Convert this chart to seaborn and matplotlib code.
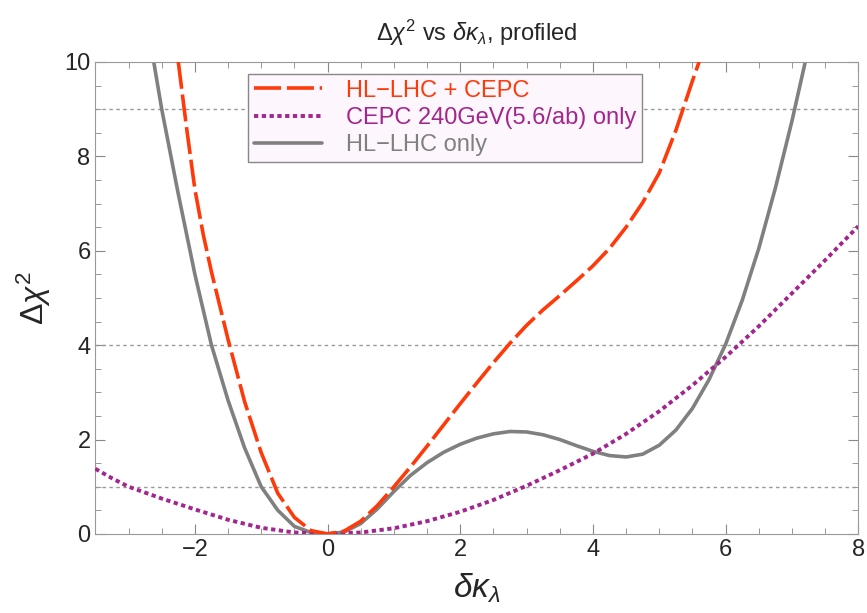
import numpy as np
import pandas as pd
import matplotlib
matplotlib.use("Agg")
import matplotlib.pyplot as plt
import seaborn as sns
from matplotlib.ticker import MultipleLocator

# -------------------------------
# Datos
# -------------------------------
x_comb = [-2.25, -2.125, -2.0, -1.875, -1.75, -1.5, -1.25, -1.0, -0.75, -0.5, -0.25, 0.0,
          0.25, 0.5, 0.75, 1.0, 1.25, 1.5, 1.75, 2.0, 2.25, 2.5, 2.75, 3.0,
          3.25, 3.5, 3.75, 4.0, 4.25, 4.5, 4.75, 5.0, 5.25, 5.5, 5.6]
y_comb = [10.0, 8.6, 7.3, 6.35, 5.55, 4.12, 2.8, 1.72, 0.86, 0.35, 0.07, 0.0,
          0.06, 0.27, 0.6, 1.0, 1.42, 1.86, 2.31, 2.76, 3.2, 3.63, 4.04, 4.42,
          4.75, 5.05, 5.36, 5.68, 6.05, 6.5, 7.02, 7.65, 8.55, 9.6, 10.0]

x_cepc = [-3.5, -3.25, -3.0, -2.5, -2.0, -1.5, -1.0, -0.5, 0.0, 0.5, 1.0, 1.5,
          2.0, 2.5, 3.0, 3.5, 4.0, 4.5, 5.0, 5.5, 6.0, 6.5, 7.0, 7.5, 8.0]
y_cepc = [1.38, 1.18, 1.0, 0.75, 0.52, 0.3, 0.13, 0.03, 0.0, 0.03, 0.12, 0.27,
          0.47, 0.72, 1.02, 1.35, 1.7, 2.12, 2.6, 3.15, 3.75, 4.4, 5.1, 5.8, 6.52]

x_hl = [-2.62, -2.5, -2.25, -2.0, -1.75, -1.5, -1.25, -1.0, -0.75, -0.5, -0.25, 0.0,
        0.25, 0.5, 0.75, 1.0, 1.25, 1.5, 1.75, 2.0, 2.25, 2.5, 2.75, 3.0, 3.25,
        3.5, 3.75, 4.0, 4.25, 4.5, 4.75, 5.0, 5.25, 5.5, 5.75, 6.0, 6.25, 6.5,
        6.75, 7.0, 7.2]
y_hl = [10.0, 9.0, 7.2, 5.5, 4.0, 2.83, 1.82, 1.0, 0.5, 0.16, 0.03, 0.0,
        0.04, 0.22, 0.53, 0.9, 1.24, 1.51, 1.73, 1.9, 2.03, 2.12, 2.17, 2.16, 2.1,
        2.0, 1.87, 1.75, 1.66, 1.63, 1.69, 1.88, 2.2, 2.66, 3.27, 4.02, 4.95, 6.05,
        7.33, 8.75, 10.0]

etiquetas = ["HL\u2212LHC + CEPC", "CEPC 240GeV(5.6/ab) only", "HL\u2212LHC only"]
colores = ["#FF3A0A", "#A3268E", "#808080"]
niveles = [1, 4, 9]

# -------------------------------
# Estilo
# -------------------------------
sns.set_style("ticks")
plt.rcParams["font.family"] = ["Liberation Sans", "DejaVu Sans"]
plt.rcParams["mathtext.fontset"] = "custom"
plt.rcParams["mathtext.rm"] = "Liberation Sans"
plt.rcParams["mathtext.it"] = "Liberation Sans:italic"

fig, ax = plt.subplots(figsize=(8.67, 6.13), dpi=100)
fig.subplots_adjust(left=0.11, right=0.99, top=0.899, bottom=0.129)

for n in niveles:
    ax.axhline(n, color="#999999", lw=1.0, ls=(0, (2.5, 2.5)), zorder=1)

df_comb = pd.DataFrame({"x": x_comb, "y": y_comb})
df_cepc = pd.DataFrame({"x": x_cepc, "y": y_cepc})
df_hl = pd.DataFrame({"x": x_hl, "y": y_hl})

sns.lineplot(data=df_comb, x="x", y="y", ax=ax, color=colores[0], lw=2.6,
             label=etiquetas[0], zorder=4, sort=False)
sns.lineplot(data=df_cepc, x="x", y="y", ax=ax, color=colores[1], lw=2.8,
             label=etiquetas[1], zorder=3, sort=False)
sns.lineplot(data=df_hl, x="x", y="y", ax=ax, color=colores[2], lw=2.6,
             label=etiquetas[2], zorder=2, sort=False)

ax.lines[3].set_dashes([7.5, 1.6])
ax.lines[4].set_dashes([1.1, 0.9])

ax.set_xlim(-3.5, 8)
ax.set_ylim(0, 10)
ax.xaxis.set_major_locator(MultipleLocator(2))
ax.xaxis.set_minor_locator(MultipleLocator(0.5))
ax.yaxis.set_major_locator(MultipleLocator(2))
ax.yaxis.set_minor_locator(MultipleLocator(0.5))
ax.tick_params(which="both", direction="in", top=True, right=True, color="#888888")
ax.tick_params(which="major", length=7, labelsize=17)
ax.tick_params(which="minor", length=4)
for s in ax.spines.values():
    s.set_color("#999999")

ax.set_xlabel(r"$\delta\kappa_\lambda$", fontsize=24, labelpad=8)
ax.set_ylabel(r"$\Delta\chi^2$", fontsize=23, labelpad=8)
ax.set_title(r"$\Delta\chi^2$ vs $\delta\kappa_\lambda$, profiled", fontsize=17, pad=15)

leg = ax.legend(loc="upper left", bbox_to_anchor=(0.2, 0.975), fontsize=17,
                handlelength=2.9, handletextpad=1.0, labelspacing=0.22,
                borderpad=0.25, borderaxespad=0.0,
                frameon=True, fancybox=False, labelcolor="linecolor")
leg.get_frame().set_facecolor("#FDF6FD")
leg.get_frame().set_edgecolor("#888888")
leg.get_frame().set_alpha(1)

fig.savefig("out.png", dpi=100)
